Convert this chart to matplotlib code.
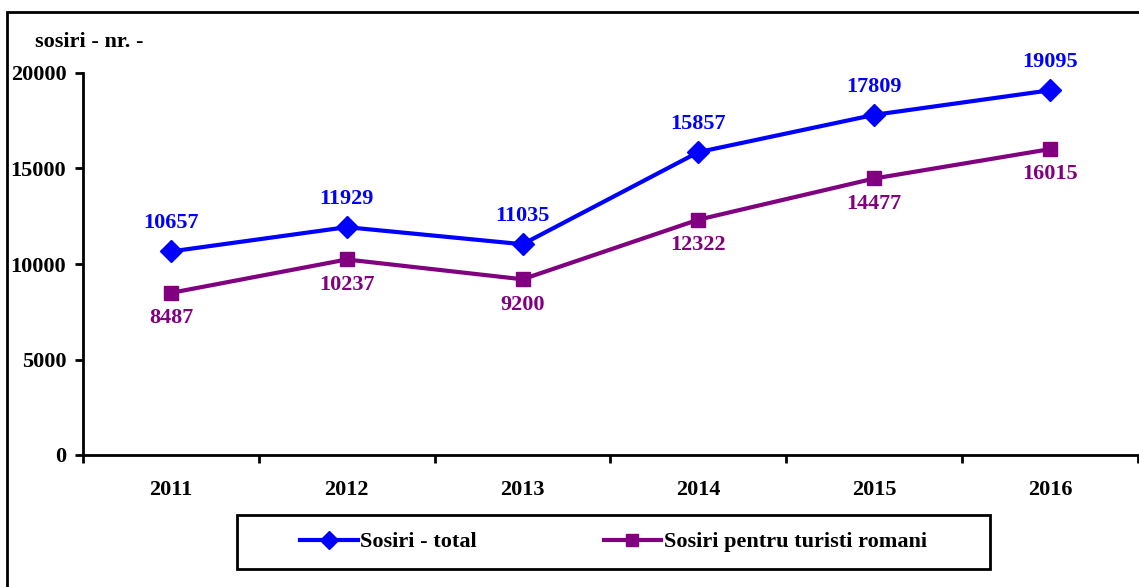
import matplotlib.pyplot as plt
from matplotlib.patches import Rectangle

# data
years = ['2011', '2012', '2013', '2014', '2015', '2016']
sosiri_total = [10657, 11929, 11035, 15857, 17809, 19095]
sosiri_romani = [8487, 10237, 9200, 12322, 14477, 16015]
y_ticks = [0, 5000, 10000, 15000, 20000]

plt.rcParams['font.family'] = ['Liberation Serif', 'DejaVu Serif']
plt.rcParams['font.weight'] = 'bold'
FS = 16

W, H = 1139, 587
fig = plt.figure(figsize=(W / 100, H / 100), dpi=100)
ax = fig.add_axes([83 / W, 1 - 455 / H, (1138 - 83) / W, (455 - 73) / H])

x = list(range(len(years)))
ax.plot(x, sosiri_total, color='#0000FF', lw=3, marker='D', ms=11, label='Sosiri - total')
ax.plot(x, sosiri_romani, color='#800080', lw=3, marker='s', ms=10, label='Sosiri pentru turisti romani')

for i, v in enumerate(sosiri_total):
    ax.annotate(str(v), (i, v), xytext=(0, 13), textcoords='offset points',
                ha='center', va='bottom', color='#0000FF', fontsize=FS, fontweight='bold')
for i, v in enumerate(sosiri_romani):
    ax.annotate(str(v), (i, v), xytext=(0, -11), textcoords='offset points',
                ha='center', va='top', color='#800080', fontsize=FS, fontweight='bold')

ax.set_xlim(-0.5, len(years) - 0.5)
ax.set_ylim(0, 20000)
ax.set_yticks(y_ticks)
ax.set_yticklabels([str(t) for t in y_ticks], fontsize=FS, fontweight='bold')
ax.set_xticks([i - 0.5 for i in range(len(years) + 1)])
ax.set_xticklabels([])
ax.set_xticks(x, minor=True)
ax.set_xticklabels(years, minor=True, fontsize=FS, fontweight='bold')
ax.tick_params(axis='x', which='minor', length=0, pad=18)
ax.tick_params(axis='both', which='major', length=6, width=2, direction='out')
ax.tick_params(axis='y', pad=6)

for s in ['top', 'right']:
    ax.spines[s].set_visible(False)
for s in ['left', 'bottom']:
    ax.spines[s].set_linewidth(2)

fig.text(35 / W, 1 - 42 / H, 'sosiri - nr. -', fontsize=FS, fontweight='bold', va='center', ha='left')

# legend box and entries
fig.patches.append(Rectangle((237 / W, 1 - 569 / H), (990 - 237) / W, (569 - 515) / H,
                             transform=fig.transFigure, fill=False, edgecolor='black', lw=2))
leg = ax.legend(loc='center', bbox_to_anchor=(613.5 / W, 1 - 542 / H),
                bbox_transform=fig.transFigure, ncol=2, frameon=False,
                prop={'size': FS, 'weight': 'bold'}, handlelength=2.6, handletextpad=0.1,
                borderaxespad=0, markerscale=0.8, columnspacing=5.7)

# outer frame of the chart
fig.patches.append(Rectangle((7 / W, -0.05), 1.1, 1 - 12 / H + 0.05, transform=fig.transFigure,
                             fill=False, edgecolor='black', lw=2))

fig.savefig('out.png', dpi=100)
